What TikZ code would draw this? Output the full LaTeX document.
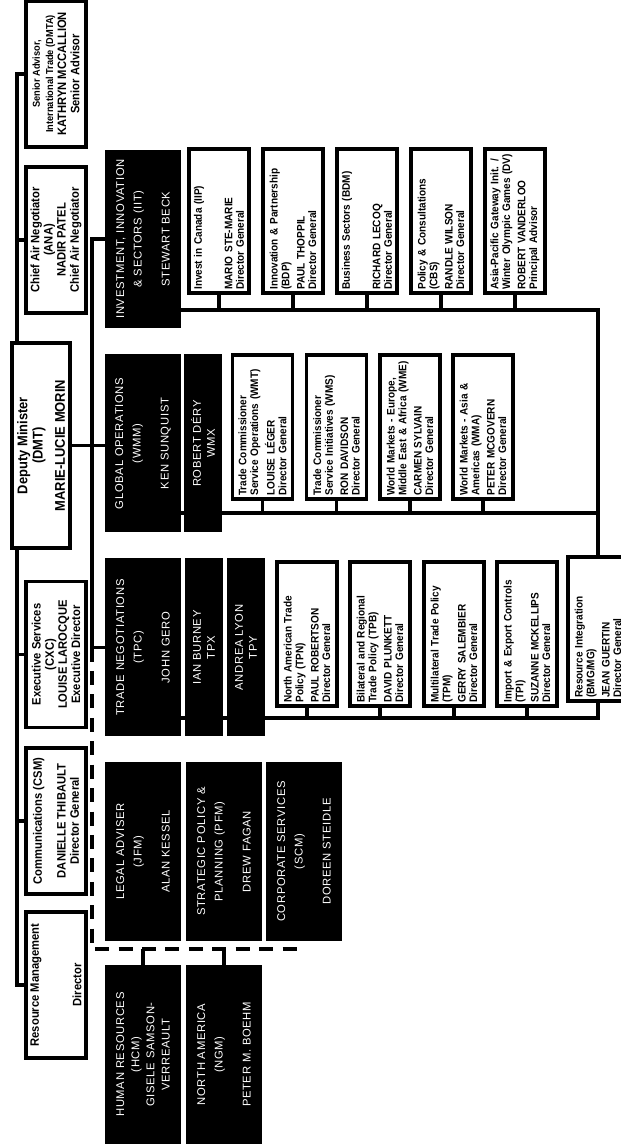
\documentclass[tikz,border=0pt]{standalone}
\usepackage{fontspec}
\setmainfont{Liberation Sans}
\newfontfamily\cardfont[FakeStretch=0.92]{Liberation Sans}
\newfontfamily\branchfont[LetterSpace=6]{Liberation Sans}
\usetikzlibrary{backgrounds}

\begin{document}
\begin{tikzpicture}[
      x=0.03cm, y=0.03cm,
      reporting link/.style={line width=2.6pt},
      staff link/.style={line width=2.8pt, dash pattern=on 12pt off 8pt},
      executive/.style={draw, line width=3pt, fill=white, align=center, inner sep=0pt,
        minimum width=4.38cm, minimum height=1.8cm,
        font=\cardfont\bfseries\fontsize{10.4}{11.2}\selectfont},
      branch/.style={fill=black, text=white, align=center, inner sep=0pt,
        minimum width=5.34cm, minimum height=2.28cm,
        font=\branchfont\fontsize{9.6}{15}\selectfont},
      associate/.style={branch, minimum height=1.14cm,
        font=\branchfont\fontsize{9.6}{12}\selectfont},
      division/.style={draw, line width=3pt, fill=white, align=left,
        inner xsep=0.1cm, inner ysep=0pt, text width=4.12cm, minimum height=1.8cm,
        font=\cardfont\bfseries\fontsize{9.3}{10}\selectfont}
      ]
      % page
      \begin{scope}[on background layer]
        \fill[white] (0,0) rectangle (621,1144);
      \end{scope}
      \useasboundingbox (0,0) rectangle (621,1144);
      % the chart is laid out landscape, then turned
      \begin{scope}[shift={(621,0)}, rotate=90, transform shape]
      % deputy minister and staff
      \node [executive, font=\cardfont\bfseries\fontsize{8.6}{11.2}\selectfont] (sa) at (1070,565)
        {Senior Advisor,\\International Trade (DMTA)\\
        {\fontsize{10.4}{11.2}\selectfont KATHRYN MCCALLION}\\{\fontsize{10.4}{11.2}\selectfont Senior Advisor}};
      \node [executive] (ana) at (904,565) {Chief Air Negotiator\\(ANA)\\NADIR PATEL\\Chief Air Negotiator};
      \node [executive, minimum width=6.15cm, minimum height=1.74cm,
        font=\cardfont\bfseries\fontsize{12}{13}\selectfont] (dm) at (698.5,580)
        {Deputy Minister\\(DMT)\\[6pt]MARIE-LUCIE MORIN};
      \node [executive] (cxc) at (489.5,565) {Executive Services\\(CXC)\\LOUISE LAROCQUE\\Executive Director};
      \node [executive] (csm) at (323,565) {Communications (CSM)\\[9pt]DANIELLE THIBAULT\\Director General};
      \node [executive] (rm) at (159,565) {Resource Management\\[25pt]Director};
      % branches
      \node [branch] (iit) at (905,478) {INVESTMENT, INNOVATION\\\& SECTORS (IIT)\\[9pt]STEWART BECK};
      \node [branch] (go) at (700.5,478) {GLOBAL OPERATIONS\\(WMM)\\[9pt]KEN SUNQUIST};
      \node [associate] (wmx) at (700.5,418) {ROBERT DÉRY\\WMX};
      \node [branch] (tpc) at (496.5,478) {TRADE NEGOTIATIONS\\(TPC)\\[9pt]JOHN GERO};
      \node [associate] (tpx) at (496.5,417) {IAN BURNEY\\TPX};
      \node [associate] (tpy) at (496.5,375) {ANDREA LYON\\TPY};
      \node [branch] (jfm) at (292.5,478) {LEGAL ADVISER\\(JFM)\\[9pt]ALAN KESSEL};
      \node [branch] (pfm) at (292.5,397) {STRATEGIC POLICY \&\\PLANNING (PFM)\\[9pt]DREW FAGAN};
      \node [branch] (scm) at (292.5,317) {CORPORATE SERVICES\\(SCM)\\[9pt]DOREEN STEIDLE};
      \node [branch, font=\branchfont\fontsize{9.6}{13}\selectfont] (hcm) at (89.5,478)
        {HUMAN RESOURCES\\(HCM)\\GISELE SAMSON-\\VERREAULT};
      \node [branch] (ngm) at (89.5,397) {NORTH AMERICA\\(NGM)\\[9pt]PETER M. BOEHM};
      % divisions of IIT
      \node [division] (ip) at (923,402) {Invest in Canada (IIP)\\[16pt]MARIO STE-MARIE\\Director General};
      \node [division] (bdp) at (923,328) {Innovation \& Partnership\\(BDP)\\[3pt]PAUL THOPPIL\\Director General};
      \node [division] (bdm) at (923,254) {Business Sectors (BDM)\\[16pt]RICHARD LECOQ\\Director General};
      \node [division] (cbs) at (923,180) {Policy \& Consultations\\(CBS)\\[3pt]RANDLE WILSON\\Director General};
      \node [division] (dv) at (923,106) {Asia-Pacific Gateway Init. /\\Winter Olympic Games (DV)\\[3pt]ROBERT VANDERLOO\\Principal Advisor};
      % divisions of WMM
      \node [division] (wmt) at (717,358.5) {Trade Commissioner\\Service Operations (WMT)\\[3pt]LOUISE LÉGER\\Director General};
      \node [division] (wms) at (717,284.5) {Trade Commissioner\\Service Initiatives (WMS)\\[3pt]RON DAVIDSON\\Director General};
      \node [division] (wme) at (717,211) {World Markets - Europe,\\Middle East \& Africa (WME)\\[3pt]CARMEN SYLVAIN\\Director General};
      \node [division] (wma) at (717,138) {World Markets - Asia \&\\Americas (WMA)\\[3pt]PETER MCGOVERN\\Director General};
      % divisions of TPC
      \node [division] (tpn) at (510,314) {North American Trade\\Policy (TPN)\\[3pt]PAUL ROBERTSON\\Director General};
      \node [division] (tpb) at (510,241) {Bilateral and Regional\\Trade Policy (TPB)\\[3pt]DAVID PLUNKETT\\Director General};
      \node [division] (tpm) at (510,167) {Multilateral Trade Policy\\(TPM)\\[3pt]GERRY SALEMBIER\\Director General};
      \node [division] (tpi) at (510,94) {Import \& Export Controls\\(TPI)\\[3pt]SUZANNE MCKELLIPS\\Director General};
      \node [division] (ri) at (515,23) {Resource Integration\\(BMG/MG)\\[3pt]JEAN GUERTIN\\Director General};
      % links
      \begin{scope}[on background layer]
      \coordinate (staff bus) at (0,604);
      \draw [reporting link] (sa.north) -- (sa.north |- staff bus) -- (rm.north |- staff bus) -- (rm.north);
      \foreach \n in {ana,cxc,csm} {
          \draw [reporting link] (\n.north) -- (\n.north |- staff bus);
      }
      \draw [reporting link] (dm.south) -- (dm.south |- go.north);
      \coordinate (branch bus) at (0,529);
      \draw [reporting link] (iit.north) -- (iit.north |- branch bus) -- (tpc.north |- branch bus) -- (tpc.north);
      % advisers, dashed
      \coordinate (adviser corner) at (195,529);
      \coordinate (adviser end) at (195,316);
      \draw [staff link] (tpc.north |- branch bus) -- (adviser corner) -- (adviser end);
      \foreach \n in {hcm,ngm} {
          \draw [reporting link] (\n.east) -- (\n.east -| adviser corner);
      }
      % division buses
      \coordinate (iit bus) at (834,23);
      \coordinate (wmm bus) at (631,23);
      \coordinate (tpc bus) at (426,23);
      \draw [reporting link] (iit bus |- iit.south) -- (iit bus) -- (tpc bus) -- (tpc bus |- tpc.south);
      \draw [reporting link] (wmm bus |- go.south) -- (wmm bus);
      \foreach \n in {ip,bdp,bdm,cbs,dv} {
          \draw [reporting link] (\n.west) -- (\n.west -| iit bus);
      }
      \foreach \n in {wmt,wms,wme,wma} {
          \draw [reporting link] (\n.west) -- (\n.west -| wmm bus);
      }
      \foreach \n in {tpn,tpb,tpm,tpi,ri} {
          \draw [reporting link] (\n.west) -- (\n.west -| tpc bus);
      }
      \end{scope}
      \end{scope}
    \end{tikzpicture}
\end{document}
